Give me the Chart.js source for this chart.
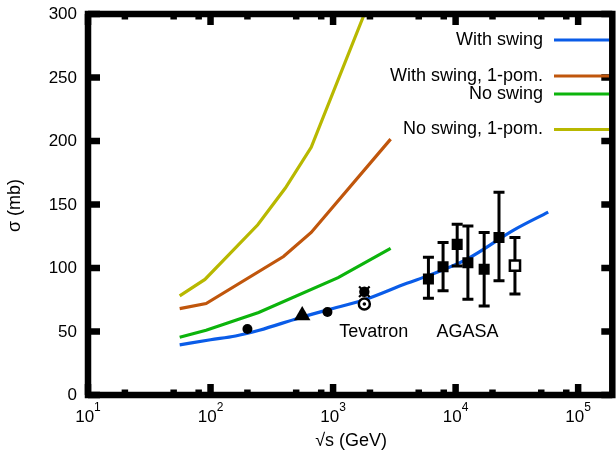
<!DOCTYPE html>
<html>
<head>
<meta charset="UTF-8">
<title>sigma vs sqrt(s)</title>
<script src="https://cdn.jsdelivr.net/npm/chart.js"></script>
<style>
  * {padding: 0; margin: 0;}
  body {overflow: hidden; background: #fff;}
  #box {width: 622px; height: 451px;}
</style>
</head>
<body>
<div id="box"><canvas id="myChart" width="622" height="451"></canvas></div>
<script>
// model curves (sqrt(s) in GeV, sigma in mb)
const swingX = [56, 100, 160, 250, 520, 900, 1800, 4000, 6000, 12400, 30000, 57000];
const swingY = [39.5, 43.5, 46.5, 51, 60.5, 67, 75, 88, 94, 107, 130, 144];
const swing1pX = [56, 92, 394, 663, 2950];
const swing1pY = [68, 72, 109, 128, 201.5];
const noSwingX = [56, 92, 247, 1100, 2950];
const noSwingY = [45.5, 51, 65, 92.4, 115.5];
const noSwing1pX = [56, 90, 243, 408, 663, 1800];
const noSwing1pY = [78, 91, 134, 163, 195, 300];

// measurements
const dotX = [200, 900];
const dotY = [52, 65.4];
const triX = [560];
const triY = [62.6];
const tevRingX = [1800];
const tevRingY = [71.7];
const tevStarX = [1800];
const tevStarY = [81.3];
const agasaX = [6000, 7900, 10300, 12600, 17100, 22600];
const agasaY = [91.3, 101, 118.6, 104.2, 99, 124];
const agasaHi = [108.4, 120, 134.4, 133, 128, 159.6];
const agasaLo = [76.1, 82, 101.6, 75.3, 70, 90];
const openX = [30500];
const openY = [101.8];
const openHi = [124];
const openLo = [79.5];

// axis ticks
const yTicks = [0, 50, 100, 150, 200, 250, 300];
const xExp = [1, 2, 3, 4, 5];
const xMinorMult = [2, 5, 8];

const legendNames = ['With swing', 'With swing, 1-pom.', 'No swing', 'No swing, 1-pom.'];
const colBlue = '#0a5ce8', colBrown = '#c0560c', colGreen = '#0cb40c', colYellow = '#b8b800';

function pts(xs, ys) { return xs.map((x, i) => ({x: x, y: ys[i]})); }

const FONT = "'Liberation Sans', Arial, sans-serif";

const errorBars = {
  id: 'errorBars',
  beforeDatasetDraw(chart, args) {
    if (args.index !== 6) return; // draw under the squares
    const xs = chart.scales.x, ys = chart.scales.y, ctx = chart.ctx;
    ctx.save();
    ctx.strokeStyle = '#000';
    ctx.lineWidth = 3;
    ctx.lineCap = 'butt';
    const all = [[agasaX, agasaHi, agasaLo], [openX, openHi, openLo]];
    all.forEach(set => {
      set[0].forEach((v, i) => {
        const px = xs.getPixelForValue(v);
        const top = ys.getPixelForValue(set[1][i]);
        const bot = ys.getPixelForValue(set[2][i]);
        ctx.beginPath();
        ctx.moveTo(px, top); ctx.lineTo(px, bot);
        ctx.moveTo(px - 5.5, top); ctx.lineTo(px + 5.5, top);
        ctx.moveTo(px - 5.5, bot); ctx.lineTo(px + 5.5, bot);
        ctx.stroke();
      });
    });
    ctx.restore();
  }
};

const frame = {
  id: 'frame',
  afterDatasetsDraw(chart) {
    const ctx = chart.ctx, a = chart.chartArea;
    const xs = chart.scales.x, ys = chart.scales.y;
    ctx.save();
    ctx.strokeStyle = '#000';
    ctx.lineWidth = 6.5;
    ctx.lineCap = 'butt';
    ctx.strokeRect(a.left, a.top, a.right - a.left, a.bottom - a.top);

    // y ticks, both sides, inward
    ctx.beginPath();
    yTicks.forEach(v => {
      const py = ys.getPixelForValue(v);
      ctx.moveTo(a.left, py); ctx.lineTo(a.left + 12, py);
      ctx.moveTo(a.right, py); ctx.lineTo(a.right - 11, py);
    });
    // x ticks, top and bottom
    xExp.forEach(e => {
      const px = xs.getPixelForValue(Math.pow(10, e));
      ctx.moveTo(px, a.bottom); ctx.lineTo(px, a.bottom - 11);
      ctx.moveTo(px, a.top); ctx.lineTo(px, a.top + 11);
      xMinorMult.forEach(m => {
        const v = m * Math.pow(10, e);
        if (v > xs.max) return;
        const qx = xs.getPixelForValue(v);
        ctx.moveTo(qx, a.bottom); ctx.lineTo(qx, a.bottom - 5.5);
        ctx.moveTo(qx, a.top); ctx.lineTo(qx, a.top + 5.5);
      });
    });
    ctx.stroke();

    ctx.fillStyle = '#000';
    // y tick labels
    ctx.font = '17px ' + FONT;
    ctx.textAlign = 'right';
    ctx.textBaseline = 'middle';
    yTicks.forEach(v => ctx.fillText(String(v), 77, ys.getPixelForValue(v) + 0.5));

    // x tick labels 10^n
    ctx.textBaseline = 'alphabetic';
    ctx.textAlign = 'left';
    xExp.forEach(e => {
      const px = xs.getPixelForValue(Math.pow(10, e));
      ctx.font = '17px ' + FONT;
      const wb = ctx.measureText('10').width;
      ctx.font = '12px ' + FONT;
      const we = ctx.measureText(String(e)).width;
      const x0 = px - (wb + we) / 2;
      ctx.font = '17px ' + FONT;
      ctx.fillText('10', x0, 421.5);
      ctx.font = '12px ' + FONT;
      ctx.fillText(String(e), x0 + wb, 411);
    });

    // axis titles
    ctx.font = '18px ' + FONT;
    ctx.textAlign = 'center';
    ctx.textBaseline = 'middle';
    ctx.fillText('\u221As (GeV)', (a.left + a.right) / 2 + 1, 441);
    ctx.save();
    ctx.translate(15, (a.top + a.bottom) / 2 + 1);
    ctx.rotate(-Math.PI / 2);
    ctx.fillText('\u03C3 (mb)', 0, 0);
    ctx.restore();

    // annotations
    ctx.fillText('Tevatron', xs.getPixelForValue(2150), ys.getPixelForValue(49.6));
    ctx.fillText('AGASA', xs.getPixelForValue(12500), ys.getPixelForValue(49.6));

    // legend
    const cols = [colBlue, colBrown, colGreen, colYellow];
    const rows = [40, 76, 94, 129.5];
    ctx.textAlign = 'right';
    legendNames.forEach((n, i) => {
      ctx.fillStyle = '#000';
      ctx.fillText(n, 543, rows[i]);
      ctx.strokeStyle = cols[i];
      ctx.lineWidth = 3.2;
      ctx.beginPath();
      ctx.moveTo(554, rows[i]); ctx.lineTo(609, rows[i]);
      ctx.stroke();
    });
    ctx.restore();
  }
};

function curve(label, xs, ys, color) {
  return {type: 'line', label: label, data: pts(xs, ys), borderColor: color, borderWidth: 3.2,
          pointRadius: 0, fill: false, tension: 0, order: 5};
}
function marks(xs, ys, style, r, fillC, lineC, lw, ord) {
  return {type: 'scatter', data: pts(xs, ys), pointStyle: style, pointRadius: r,
          backgroundColor: fillC, borderColor: lineC, borderWidth: lw, order: ord};
}

const blueCurve = curve(legendNames[0], swingX, swingY, colBlue);
blueCurve.cubicInterpolationMode = 'monotone';

new Chart(document.getElementById('myChart'), {
  data: {
    datasets: [
      blueCurve,
      curve(legendNames[1], swing1pX, swing1pY, colBrown),
      curve(legendNames[2], noSwingX, noSwingY, colGreen),
      curve(legendNames[3], noSwing1pX, noSwing1pY, colYellow),
      marks(dotX, dotY, 'circle', 5, '#000', '#000', 0, 2),
      marks(triX, triY, 'triangle', 9.5, '#000', '#000', 0, 2),
      marks(agasaX, agasaY, 'rect', 7.8, '#000', '#000', 0, 3),
      marks(openX, openY, 'rect', 7.2, '#fff', '#000', 2.5, 2),
      marks(tevRingX, tevRingY, 'circle', 5.5, '#fff', '#000', 2.5, 2),
      marks(tevRingX, tevRingY, 'circle', 1.8, '#000', '#000', 0, 1),
      marks(tevStarX, tevStarY, 'crossRot', 7.5, '#000', '#000', 2.2, 2),
      marks(tevStarX, tevStarY, 'circle', 5.2, '#000', '#000', 0, 1)
    ]
  },
  options: {
    responsive: false,
    animation: false,
    devicePixelRatio: 1,
    layout: {padding: {left: 88, top: 14, right: 5, bottom: 56}},
    scales: {
      x: {type: 'logarithmic', min: 10, max: 190000, display: false},
      y: {type: 'linear', min: 0, max: 300, display: false}
    },
    plugins: {legend: {display: false}, tooltip: {enabled: false}}
  },
  plugins: [errorBars, frame]
});
</script>
</body>
</html>
